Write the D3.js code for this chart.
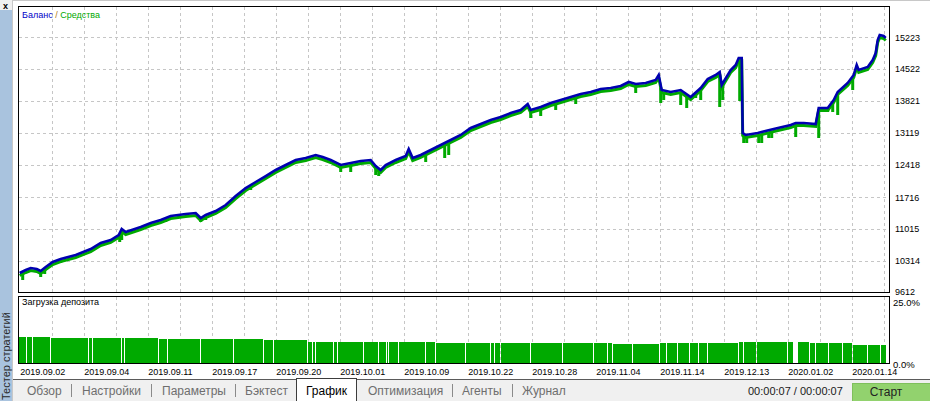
<!DOCTYPE html>
<html><head><meta charset="utf-8">
<script src="https://cdn.jsdelivr.net/npm/d3@7"></script>
<style>
html,body{margin:0;padding:0;background:#fff;overflow:hidden}
svg{display:block;font-family:"Liberation Sans",Arial,sans-serif}
</style></head><body>
<svg id="c" width="930" height="401"></svg>
<script>
// ---- data (bar number, account value) ----
const balanceBars = [0,6,11,17,21,26,33,41,56,71,81,91,99,102,106,121,131,141,151,166,176,181,186,196,206,216,226,236,246,256,266,276,286,296,303,311,321,331,341,351,356,361,366,376,386,389,393,401,411,421,431,441,451,461,471,481,491,501,508,511,521,531,541,551,561,571,581,591,601,609,616,626,636,639,642,651,661,671,681,688,696,700,702,705,711,716,719,722,723,726,738,754,771,776,784,796,799,808,814,818,828,834,837,839,848,853,856,858,860,864,866];
const balance = [10050,10116,10160,10138,10094,10182,10291,10357,10445,10576,10708,10774,10883,11015,10949,11059,11146,11212,11300,11344,11365,11256,11322,11409,11541,11738,11913,12045,12176,12308,12418,12527,12571,12637,12593,12527,12418,12461,12505,12527,12396,12308,12418,12527,12615,12768,12571,12637,12746,12856,12965,13075,13228,13316,13404,13470,13557,13623,13754,13623,13689,13776,13842,13908,13974,14018,14083,14105,14149,14237,14193,14215,14281,14390,14061,14018,14061,13908,14105,14302,14390,14456,14171,14281,14500,14609,14763,14763,13119,13075,13119,13207,13294,13338,13338,13316,13667,13667,13842,14018,14215,14390,14609,14500,14565,14719,14872,15157,15267,15245,15201];
const equity = [9995,10061,10105,10083,10039,10127,10236,10302,10390,10521,10653,10719,10828,10960,10894,11004,11091,11157,11245,11289,11310,11201,11267,11354,11486,11683,11858,11990,12121,12253,12363,12472,12516,12582,12538,12472,12363,12406,12450,12472,12341,12253,12363,12472,12560,12713,12516,12582,12691,12801,12910,13020,13173,13261,13349,13415,13502,13568,13699,13568,13634,13721,13787,13853,13919,13963,14028,14050,14094,14182,14138,14160,14226,14335,14006,13963,14006,13853,14050,14247,14335,14401,14116,14226,14445,14554,14708,14708,13064,13020,13064,13152,13239,13283,13283,13261,13612,13612,13787,13963,14160,14335,14554,14445,14510,14664,14817,15102,15212,15190,15146];
const dipBars   = [3,21,25,41,100,102,146,181,186,231,243,321,331,356,359,406,425,429,511,521,536,556,616,641,644,661,667,676,681,700,703,720,724,727,739,742,749,752,776,799,808,813,818,833];
const dipValues = [9897,9963,10028,10270,10730,10774,11168,11168,11212,11870,12089,12264,12264,12198,12176,12483,12571,12637,13448,13491,13623,13754,13996,13776,13842,13733,13667,13886,13842,13689,13842,13820,12900,12900,12900,12900,13009,13009,13031,13009,13579,13579,13513,14061];
const valueTicks = [9612,10314,11015,11716,12418,13119,13821,14522,15223];
const dateLabels = ["2019.09.02","2019.09.04","2019.09.11","2019.09.17","2019.09.20","2019.10.01","2019.10.09","2019.10.22","2019.10.28","2019.11.04","2019.11.14","2019.12.13","2020.01.02","2020.01.14"];
const dateBars = [0,64,128,192,256,320,384,448,512,576,640,704,768,832];
const gridBars = [32,64,96,128,160,192,224,256,288,320,352,384,416,448,480,512,544,576,608,640,672,704,736,768,800,832,864];
const loadGaps = [7,13,31,69,73,102,105,139,148,181,214,244,254,288,293,296,314,318,344,359,367,369,379,406,416,446,471,475,481,511,543,574,588,593,613,640,647,658,670,679,688,719,724,737,768,774,775,776,777,778,790,796,809,823,833,848,861];
const loadLevelBars = [0,31,71,131,231,281,411,481,591,641,711,781,831];
const loadLevels = [9.96,9.6,9.35,8.98,8.7,8.07,7.7,7.46,7.08,7.46,7.84,7.58,6.8];
const loadTickLabels = ["25.0%","0.0%"];
const tabs = ["Обзор","Настройки","Параметры","Бэктест","График","Оптимизация","Агенты","Журнал"];
const activeTab = "График";
const timeText = "00:00:07 / 00:00:07";
const lastBar = 866;

// ---- drawing ----
const svg = d3.select("#c");
const F = {L:18.5, R:889.5, T:6.5, B:292.5, ST:296.5, SB:363.5};
const x = d3.scaleLinear().domain([0,lastBar]).range([19.7,885.7]);
const y = d3.scaleLinear().domain([9612,15223]).range([293,37]);
const yl = d3.scaleLinear().domain([0,25]).range([363,297]);

// window chrome
svg.append("rect").attr("x",0).attr("y",0).attr("width",930).attr("height",401).attr("fill","#ffffff");
svg.append("rect").attr("x",0).attr("y",0).attr("width",13).attr("height",401).attr("fill","#f0f0f0");
svg.append("rect").attr("x",0).attr("y",10).attr("width",12).attr("height",391).attr("fill","#a9c3de");
svg.append("line").attr("x1",12.5).attr("x2",12.5).attr("y1",0).attr("y2",401).attr("stroke","#c8c8c8");
svg.append("line").attr("x1",13).attr("x2",930).attr("y1",0.5).attr("y2",0.5).attr("stroke","#c8c8c8");
svg.append("text").attr("x",5.5).attr("y",8.5).attr("text-anchor","middle").attr("font-size",9).attr("font-weight","bold").text("x");
svg.append("text").attr("transform","translate(10,400) rotate(-90)").attr("font-size",11).attr("fill","#2a2a2a").text("Тестер стратегий");

// clip
const defs = svg.append("defs");
defs.append("clipPath").attr("id","mc").append("rect").attr("x",F.L+0.5).attr("y",F.T+0.5).attr("width",F.R-F.L-1).attr("height",F.B-F.T-1);
defs.append("clipPath").attr("id","sc").append("rect").attr("x",F.L+0.5).attr("y",F.ST+0.5).attr("width",F.R-F.L-1).attr("height",F.SB-F.ST-1);

// grid
const grid = svg.append("g").attr("stroke","#c6c6c6").attr("stroke-dasharray","3,3").attr("shape-rendering","crispEdges");
grid.selectAll(".hg").data(valueTicks.filter(v=>v>valueTicks[0])).join("line")
  .attr("x1",F.L).attr("x2",F.R).attr("y1",d=>Math.round(y(d))+0.5).attr("y2",d=>Math.round(y(d))+0.5);
grid.selectAll(".vg").data(gridBars).join("line")
  .attr("x1",d=>Math.round(x(d))+0.5).attr("x2",d=>Math.round(x(d))+0.5).attr("y1",F.T).attr("y2",F.B);
grid.selectAll(".vs").data(gridBars).join("line")
  .attr("x1",d=>Math.round(x(d))+0.5).attr("x2",d=>Math.round(x(d))+0.5).attr("y1",F.ST).attr("y2",F.SB);

// equity + balance
const mainG = svg.append("g").attr("clip-path","url(#mc)");
const eqPts = balanceBars.map((b,i)=>[b,equity[i]]);
function eqAt(b){
  const i = d3.bisector(d=>d[0]).right(eqPts,b);
  if(i<=0) return eqPts[0][1];
  if(i>=eqPts.length) return eqPts[eqPts.length-1][1];
  const a=eqPts[i-1], c=eqPts[i]; const t=(b-a[0])/(c[0]-a[0]||1);
  return a[1]+(c[1]-a[1])*t;
}
const line = d3.line().x(d=>x(d[0])).y(d=>y(d[1]));
mainG.selectAll(".dip").data(dipBars.map((b,i)=>[b,dipValues[i]])).join("line")
  .attr("x1",d=>x(d[0])).attr("x2",d=>x(d[0])).attr("y1",d=>y(eqAt(d[0]))).attr("y2",d=>y(d[1]))
  .attr("stroke","#00aa00").attr("stroke-width",3);
mainG.append("path").datum(eqPts).attr("d",line).attr("fill","none").attr("stroke","#00aa00").attr("stroke-width",3).attr("stroke-linejoin","miter");
mainG.append("path").datum(balanceBars.map((b,i)=>[b,balance[i]])).attr("d",line).attr("fill","none").attr("stroke","#0000b0").attr("stroke-width",2.6).attr("stroke-linejoin","miter");

// load bars
const segs = [];
const cuts = [-1].concat(loadGaps).concat([lastBar+1]);
function levelAt(b){ let v=loadLevels[0]; loadLevelBars.forEach((lb,i)=>{ if(b>=lb) v=loadLevels[i]; }); return v; }
for(let i=0;i<cuts.length-1;i++){
  const s=cuts[i]+1, e=cuts[i+1];
  if(e>s) segs.push({s,e,v:levelAt(s)});
}
svg.append("g").attr("clip-path","url(#sc)").selectAll("rect").data(segs).join("rect")
  .attr("x",d=>x(d.s)-0.7).attr("width",d=>x(d.e)-x(d.s))
  .attr("y",d=>yl(d.v)).attr("height",d=>yl(0)-yl(d.v)).attr("fill","#00aa00").attr("shape-rendering","crispEdges");

// frames
svg.append("rect").attr("x",F.L).attr("y",F.T).attr("width",F.R-F.L).attr("height",F.B-F.T).attr("fill","none").attr("stroke","#000");
svg.append("rect").attr("x",F.L).attr("y",F.ST).attr("width",F.R-F.L).attr("height",F.SB-F.ST).attr("fill","none").attr("stroke","#000");

// right axis labels
svg.append("g").selectAll("text").data(valueTicks).join("text")
  .attr("x",895).attr("y",(d,i)=>y(d)+(i===0?2:3.5)).attr("font-size",9).attr("fill","#000").text(d=>d);
svg.append("text").attr("x",893).attr("y",306).attr("font-size",9.5).text(loadTickLabels[0]);
svg.append("text").attr("x",893).attr("y",368).attr("font-size",9.5).text(loadTickLabels[1]);

// date labels
svg.append("g").selectAll("text").data(dateLabels).join("text")
  .attr("x",(d,i)=>x(dateBars[i])+0.5).attr("y",374.5).attr("font-size",9).attr("fill","#000").text(d=>d);

// legend
const lg = svg.append("text").attr("x",22).attr("y",18).attr("font-size",9);
lg.append("tspan").attr("fill","#0000c8").text("Баланс");
lg.append("tspan").attr("fill","#b07a10").text(" / ");
lg.append("tspan").attr("fill","#00a800").text("Средства");
svg.append("text").attr("x",22).attr("y",305).attr("font-size",9).attr("fill","#000").text("Загрузка депозита");

// tab bar
svg.append("rect").attr("x",13).attr("y",380).attr("width",917).attr("height",21).attr("fill","#f0f0f0");
svg.append("line").attr("x1",13).attr("x2",930).attr("y1",379.5).attr("y2",379.5).attr("stroke","#5a5a5a");
const tabX = [27,82,162,245,306,368,462,522];
const sepX = [71.5,151.5,235.5,452.5,512.5];
svg.append("rect").attr("x",296.5).attr("y",378.5).attr("width",60).attr("height",23).attr("fill","#ffffff").attr("stroke","#3c3c3c");
svg.append("rect").attr("x",297).attr("y",379).attr("width",59).attr("height",23).attr("fill","#ffffff");
svg.append("g").selectAll("text").data(tabs).join("text")
  .attr("x",(d,i)=>tabX[i]).attr("y",395).attr("font-size",12)
  .attr("fill",d=>d===activeTab?"#000":"#6e6e6e").text(d=>d);
svg.append("g").selectAll("line").data(sepX).join("line")
  .attr("x1",d=>d).attr("x2",d=>d).attr("y1",384).attr("y2",397).attr("stroke","#8a8a8a");
svg.append("text").attr("x",748).attr("y",395).attr("font-size",11).attr("fill","#1a1a1a").text(timeText);
svg.append("rect").attr("x",852.5).attr("y",383.5).attr("width",78).attr("height",18).attr("fill","#92d26e").attr("stroke","#7fbf5c");
svg.append("text").attr("x",886).attr("y",396).attr("text-anchor","middle").attr("font-size",12).attr("fill","#222").text("Старт");
</script>
</body></html>
